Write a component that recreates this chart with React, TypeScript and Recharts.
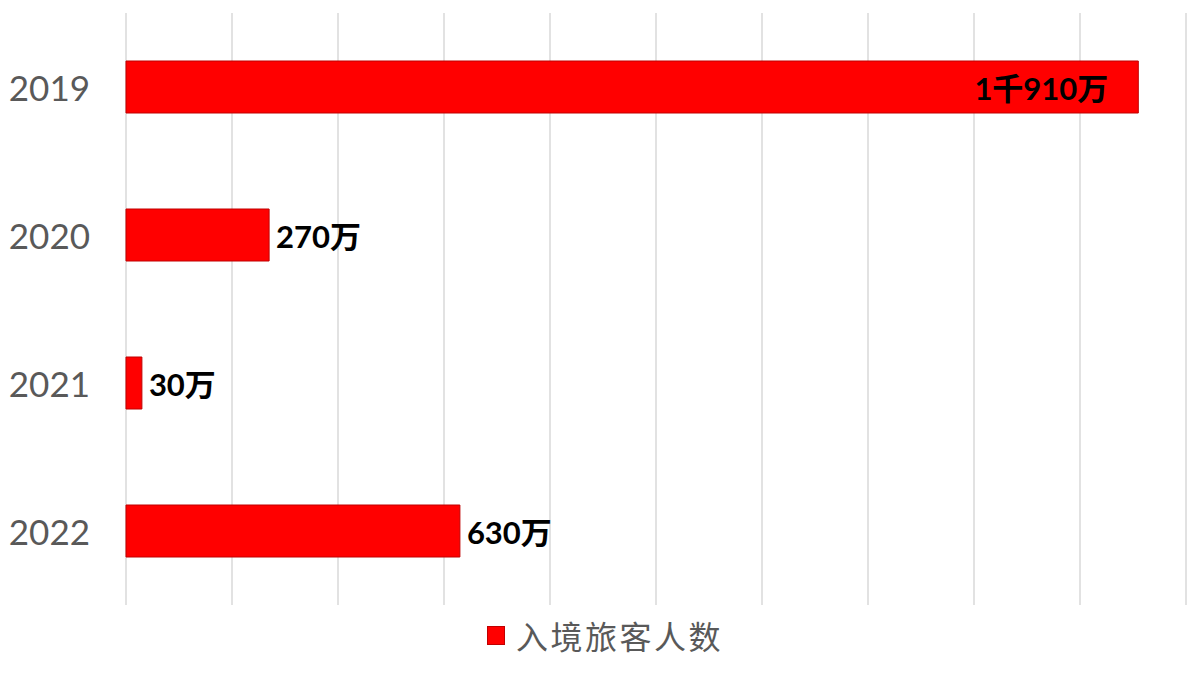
import React from "react";
import { BarChart, Bar, XAxis, YAxis, CartesianGrid, Legend, LabelList } from "recharts";

const years = ["2019", "2020", "2021", "2022"];
const visitors = [1910, 270, 30, 630]; // 万
const xTicks = [0, 200, 400, 600, 800, 1000, 1200, 1400, 1600, 1800, 2000];
const seriesName = "入境旅客人数";

const data = years.map((y, i) => ({ year: y, value: visitors[i] }));

const fmt = (v: number) => {
  if (v >= 1000) {
    const k = Math.floor(v / 1000);
    const r = v % 1000;
    return `${k}千${r}万`;
  }
  return `${v}万`;
};

const YTick = (props: any) => {
  const { x, y, payload } = props;
  return (
    <text
      x={x}
      y={y}
      textAnchor="end"
      dominantBaseline="central"
      fontFamily="Lato, 'Open Sans', sans-serif"
      fontSize={35}
      fill="#595959"
    >
      {payload.value}
    </text>
  );
};

const ValueLabel = (props: any) => {
  const { x, y, width, height, value } = props;
  const inside = value >= 1500;
  const tx = inside ? x + width - 30 : x + width + 7;
  return (
    <text
      x={tx}
      y={y + height / 2 + 1}
      textAnchor={inside ? "end" : "start"}
      dominantBaseline="central"
      fontFamily="Lato, 'Noto Sans CJK SC', sans-serif"
      fontWeight="bold"
      fontSize={31}
      fill="#000000"
    >
      {fmt(value)}
    </text>
  );
};

const LegendContent = () => (
  <div
    style={{
      height: 50,
      display: "flex",
      alignItems: "flex-end",
      justifyContent: "center",
      paddingLeft: 24,
      boxSizing: "border-box",
    }}
  >
    <div style={{ display: "flex", alignItems: "center" }}>
      <span
        style={{
          display: "inline-block",
          width: 18,
          height: 19,
          background: "#ff0000",
          border: "1px solid #c00000",
          boxSizing: "border-box",
          marginRight: 11,
        }}
      />
      <span
        style={{
          fontFamily: "'Noto Sans CJK SC', sans-serif",
          fontSize: 32,
          color: "#595959",
          lineHeight: "40px",
          letterSpacing: 2.5,
        }}
      >
        {seriesName}
      </span>
    </div>
  </div>
);

export default function App() {
  return (
    <div style={{ position: "absolute", left: 0, top: 0, width: 1200, height: 674, background: "#fff" }}>
      <BarChart
        width={1200}
        height={674}
        data={data}
        layout="vertical"
        margin={{ top: 13, right: 14, bottom: 19, left: 0 }}
      >
        <CartesianGrid horizontal={false} stroke="#d9d9d9" strokeWidth={1.5} />
        <XAxis
          type="number"
          domain={[0, 2000]}
          ticks={xTicks}
          interval={0}
          hide
        />
        <YAxis
          type="category"
          dataKey="year"
          width={126}
          axisLine={false}
          tickLine={false}
          tickMargin={0}
          tick={(p: any) => <YTick {...p} x={90} />}
        />
        <Legend verticalAlign="bottom" height={50} content={<LegendContent />} />
        <Bar
          dataKey="value"
          name={seriesName}
          fill="#ff0000"
          stroke="#c00000"
          strokeWidth={1}
          barSize={52}
          isAnimationActive={false}
        >
          <LabelList dataKey="value" content={<ValueLabel />} />
        </Bar>
      </BarChart>
    </div>
  );
}
